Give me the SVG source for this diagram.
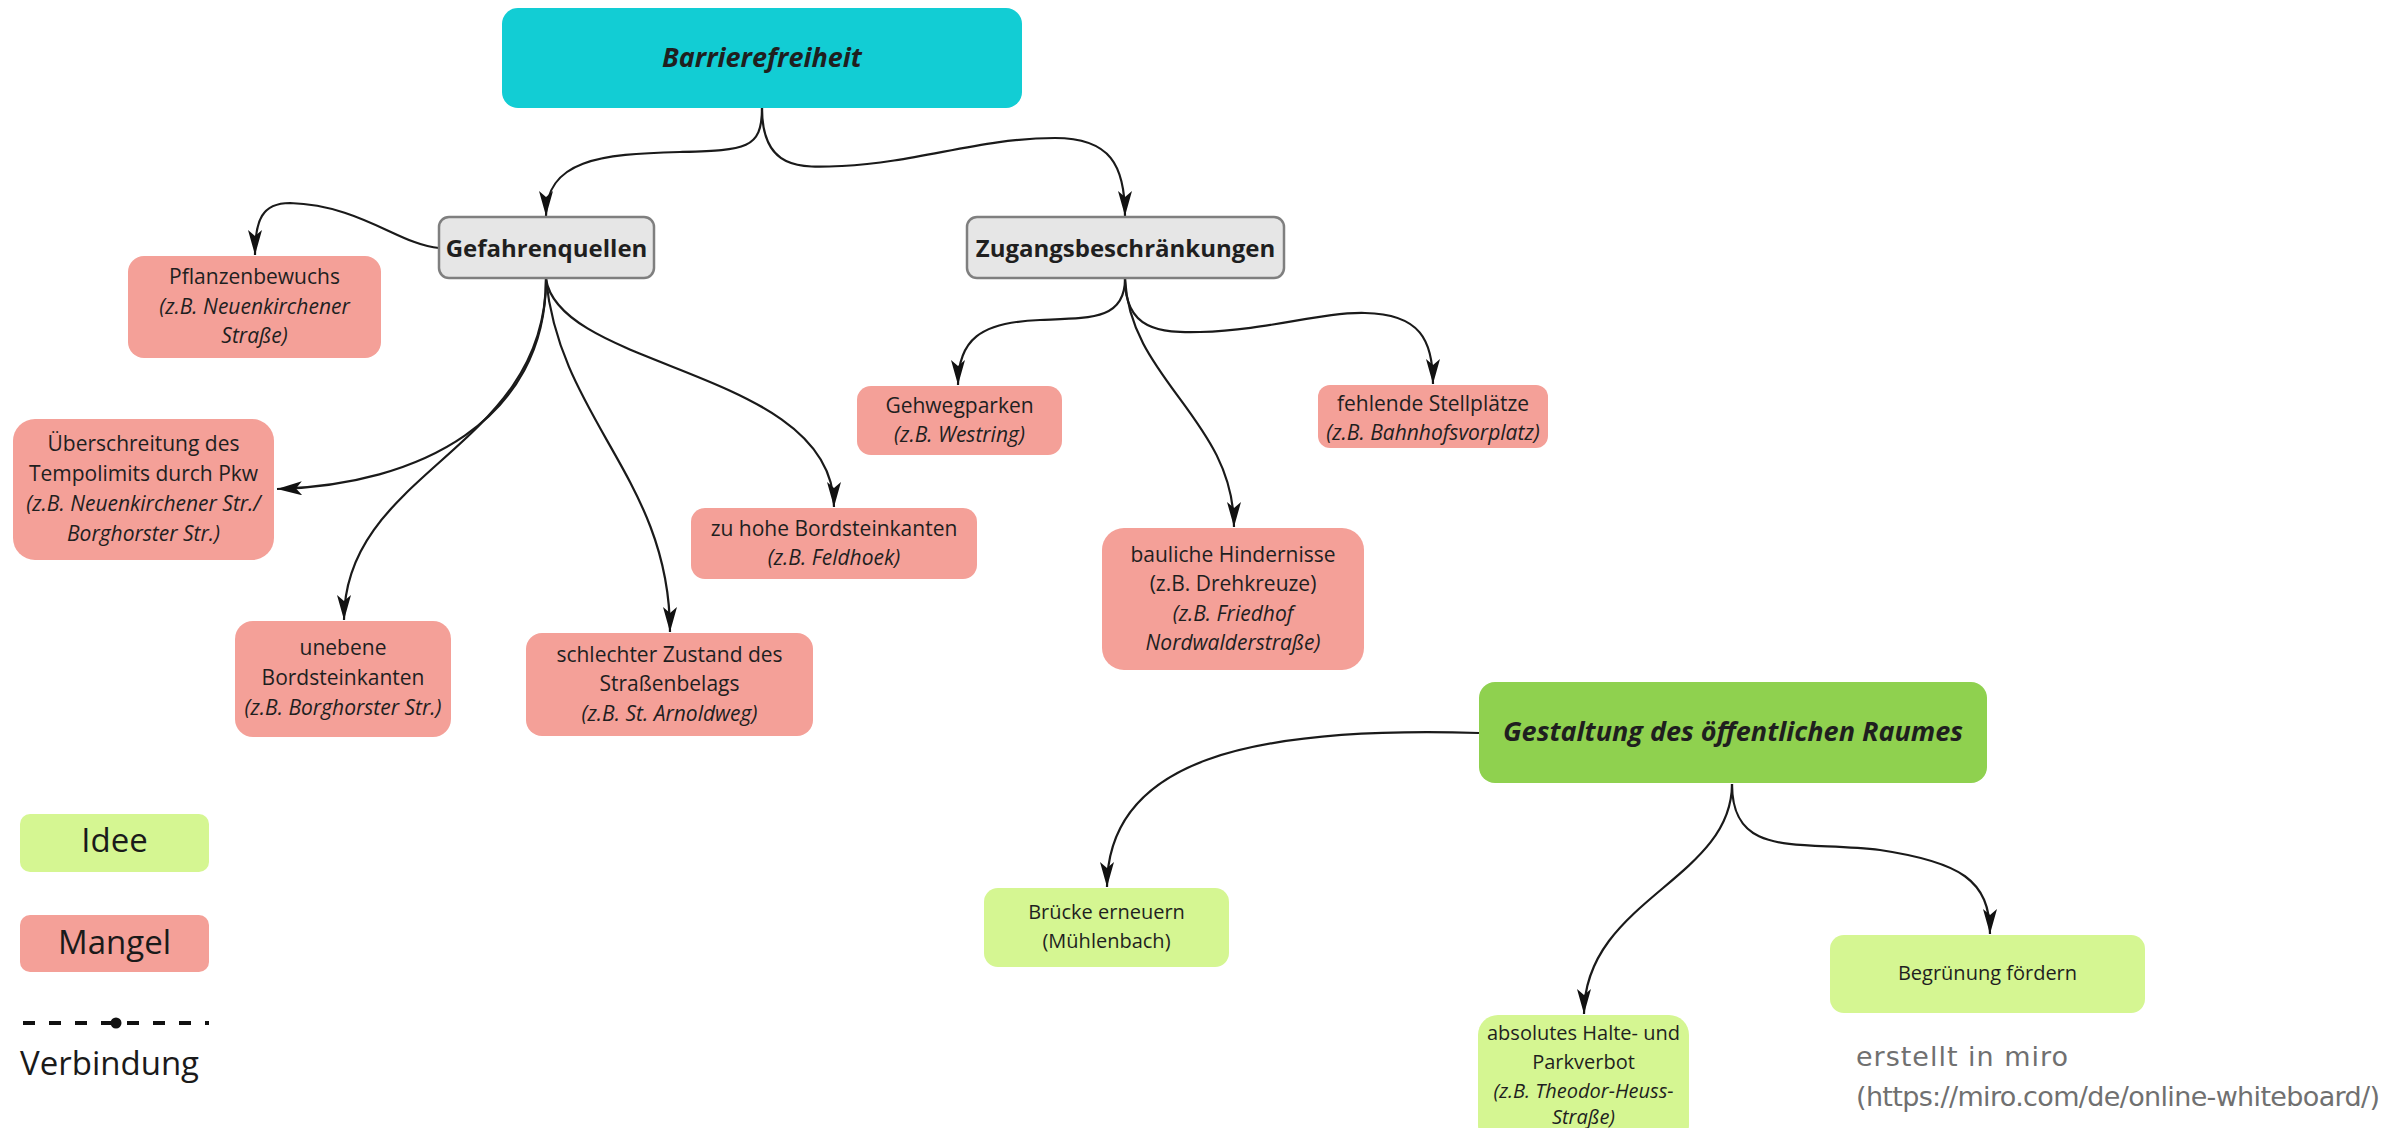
<svg xmlns="http://www.w3.org/2000/svg" width="2391" height="1128" viewBox="0 0 2391 1128">
<defs>
<style>
.t{font-family:"Open Sans","DejaVu Sans",sans-serif;fill:#1f1f1f;text-anchor:middle}
.n{font-size:21px}
.g{font-size:20px}
.i{font-style:italic}
.b{font-weight:bold;font-size:24px}
.h{font-weight:bold;font-style:italic}
.red{fill:#f4a098}
.lg{fill:#d5f692}
.gray{fill:#e6e6e6;stroke:#7f7f7f;stroke-width:2.5}
.c{fill:none;stroke:#1a1a1a;stroke-width:2.2;marker-end:url(#ah)}
.leg{font-family:"Open Sans","DejaVu Sans",sans-serif;fill:#1a1a1a;font-size:33px}
.cr{font-family:"DejaVu Sans",sans-serif;font-size:27px;fill:#707070}
</style>
<marker id="ah" markerUnits="userSpaceOnUse" markerWidth="25" markerHeight="14" refX="25" refY="7" orient="auto" viewBox="0 0 25 14">
<path d="M0,0 L25,7 L0,14 L6,7 z" fill="#111"/>
</marker>
</defs>
<rect width="2391" height="1128" fill="#ffffff"/>

<g id="connectors">
<path class="c" d="M762,108 C762,150 745,150 680,152 C600,154 546,160 546,216"/>
<path class="c" d="M762,108 C762,170 800,168 842,166 C920,162 980,138 1055,138 C1110,138 1125,165 1125,216"/>
<path class="c" d="M439,248 C400,245 360,205 290,203 C262,203 255,220 255,255"/>
<path class="c" d="M546,279 C546,420 420,485 277,489"/>
<path class="c" d="M546,279 C546,450 344,470 344,620"/>
<path class="c" d="M546,279 C560,420 670,480 670,632"/>
<path class="c" d="M546,279 C560,370 834,370 834,507"/>
<path class="c" d="M1125,279 C1125,320 1090,318 1040,320 C980,322 958,340 958,385"/>
<path class="c" d="M1125,279 C1130,380 1234,420 1234,527"/>
<path class="c" d="M1125,279 C1125,330 1160,333 1200,332 C1270,330 1320,312 1365,313 C1420,314 1433,340 1433,384"/>
<path class="c" d="M1479,733 C1250,726 1107,760 1107,887"/>
<path class="c" d="M1732,784 C1732,880 1584,900 1584,1014"/>
<path class="c" d="M1732,784 C1732,860 1800,840 1880,850 C1960,862 1990,880 1990,934"/>
</g>

<g id="barrierefreiheit">
<rect x="502" y="8" width="520" height="100" rx="16" fill="#12cdd4"/>
<text class="t h" x="762" y="67" font-size="27">Barrierefreiheit</text>
</g>

<g id="gefahrenquellen">
<rect class="gray" x="439" y="217" width="215" height="61" rx="10"/>
<text class="t b" x="546.5" y="257">Gefahrenquellen</text>
</g>

<g id="zugangsbeschraenkungen">
<rect class="gray" x="967" y="217" width="317" height="61" rx="10"/>
<text class="t b" x="1125.5" y="257">Zugangsbeschränkungen</text>
</g>

<g id="pflanzenbewuchs">
<rect class="red" x="128" y="256" width="253" height="102" rx="16"/>
<text class="t n" x="254.5" y="283.5">Pflanzenbewuchs</text>
<text class="t n i" x="254.5" y="313.5">(z.B. Neuenkirchener</text>
<text class="t n i" x="254.5" y="342.5">Straße)</text>
</g>

<g id="ueberschreitung">
<rect class="red" x="13" y="419" width="261" height="141" rx="22"/>
<text class="t n" x="143.5" y="450.5">Überschreitung des</text>
<text class="t n" x="143.5" y="480.5">Tempolimits durch Pkw</text>
<text class="t n i" x="143.5" y="510.5">(z.B. Neuenkirchener Str./</text>
<text class="t n i" x="143.5" y="540.5">Borghorster Str.)</text>
</g>

<g id="unebene">
<rect class="red" x="235" y="621" width="216" height="116" rx="18"/>
<text class="t n" x="343" y="654.5">unebene</text>
<text class="t n" x="343" y="684.5">Bordsteinkanten</text>
<text class="t n i" x="343" y="714.5">(z.B. Borghorster Str.)</text>
</g>

<g id="schlechter">
<rect class="red" x="526" y="633" width="287" height="103" rx="16"/>
<text class="t n" x="669.5" y="661.5">schlechter Zustand des</text>
<text class="t n" x="669.5" y="690.5">Straßenbelags</text>
<text class="t n i" x="669.5" y="720.5">(z.B. St. Arnoldweg)</text>
</g>

<g id="zuhohe">
<rect class="red" x="691" y="508" width="286" height="71" rx="14"/>
<text class="t n" x="834" y="535.5">zu hohe Bordsteinkanten</text>
<text class="t n i" x="834" y="564.5">(z.B. Feldhoek)</text>
</g>

<g id="gehwegparken">
<rect class="red" x="857" y="386" width="205" height="69" rx="14"/>
<text class="t n" x="959.5" y="412.5">Gehwegparken</text>
<text class="t n i" x="959.5" y="441.5">(z.B. Westring)</text>
</g>

<g id="stellplaetze">
<rect class="red" x="1318" y="385" width="230" height="63" rx="12"/>
<text class="t n" x="1433" y="410.5">fehlende Stellplätze</text>
<text class="t n i" x="1433" y="439.5">(z.B. Bahnhofsvorplatz)</text>
</g>

<g id="bauliche">
<rect class="red" x="1102" y="528" width="262" height="142" rx="22"/>
<text class="t n" x="1233" y="561.5">bauliche Hindernisse</text>
<text class="t n" x="1233" y="590.5">(z.B. Drehkreuze)</text>
<text class="t n i" x="1233" y="620.5">(z.B. Friedhof</text>
<text class="t n i" x="1233" y="649.5">Nordwalderstraße)</text>
</g>

<g id="gestaltung">
<rect x="1479" y="682" width="508" height="101" rx="16" fill="#8fd14f"/>
<text class="t h" x="1733" y="741" font-size="27">Gestaltung des öffentlichen Raumes</text>
</g>

<g id="bruecke">
<rect class="lg" x="984" y="888" width="245" height="79" rx="14"/>
<text class="t g" x="1106.5" y="919">Brücke erneuern</text>
<text class="t g" x="1106.5" y="948">(Mühlenbach)</text>
</g>

<g id="begruenung">
<rect class="lg" x="1830" y="935" width="315" height="78" rx="14"/>
<text class="t g" x="1987.5" y="980">Begrünung fördern</text>
</g>

<g id="halteverbot">
<rect class="lg" x="1478" y="1015" width="211" height="130" rx="20"/>
<text class="t g" x="1583.5" y="1040">absolutes Halte- und</text>
<text class="t g" x="1583.5" y="1069">Parkverbot</text>
<text class="t g i" x="1583.5" y="1098">(z.B. Theodor-Heuss-</text>
<text class="t g i" x="1583.5" y="1124">Straße)</text>
</g>

<g id="legende">
<rect class="lg" x="20" y="814" width="189" height="58" rx="10"/>
<text class="leg" x="114.5" y="852" text-anchor="middle">Idee</text>
<rect class="red" x="20" y="915" width="189" height="57" rx="10"/>
<text class="leg" x="114.5" y="954" text-anchor="middle">Mangel</text>
<line x1="23" y1="1023" x2="209" y2="1023" stroke="#111" stroke-width="4" stroke-dasharray="12 14"/>
<circle cx="116" cy="1023" r="5.5" fill="#111"/>
<text class="leg" x="20" y="1075" font-size="35">Verbindung</text>
</g>

<g id="credit">
<text class="cr" x="1856" y="1066" textLength="212" lengthAdjust="spacing">erstellt in miro</text>
<text class="cr" x="1856" y="1106" textLength="524" lengthAdjust="spacing">(https://miro.com/de/online-whiteboard/)</text>
</g>
</svg>
